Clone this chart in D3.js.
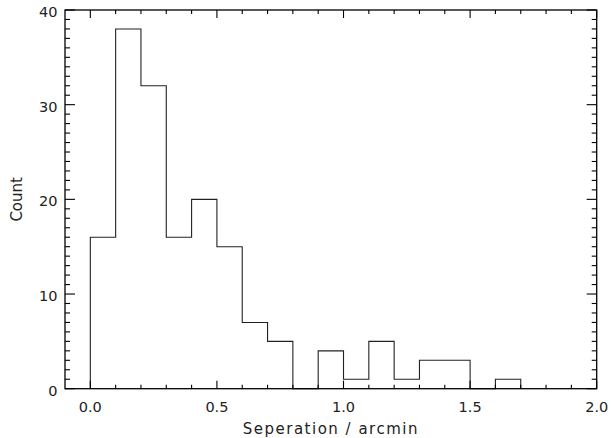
<!DOCTYPE html>
<html><head><meta charset="utf-8">
<script src="https://cdn.jsdelivr.net/npm/d3@7"></script>
<style>body{margin:0;background:#fff}svg{display:block}text{font-family:"DejaVu Sans",sans-serif;fill:#222}</style>
</head><body>
<script>
const binStarts = [0.0,0.1,0.2,0.3,0.4,0.5,0.6,0.7,0.8,0.9,1.0,1.1,1.2,1.3,1.4,1.5,1.6];
const counts    = [16, 38, 32, 16, 20, 15, 7, 5, 0, 4, 1, 5, 1, 3, 3, 0, 1];
const binWidth = 0.1;
const xTickValues = [0.0,0.5,1.0,1.5,2.0];
const xTickLabels = ["0.0","0.5","1.0","1.5","2.0"];
const yTickValues = [0,10,20,30,40];
const yTickLabels = ["0","10","20","30","40"];

const W=611,H=438;
const m={l:65,r:14.3,t:10,b:49.3};
const svg=d3.select("body").append("svg").attr("width",W).attr("height",H);
const x=d3.scaleLinear().domain([-0.1,2.0]).range([m.l,W-m.r]);
const y=d3.scaleLinear().domain([0,40]).range([H-m.b,m.t]);

// histogram step path
const pts=[[binStarts[0],0]];
binStarts.forEach((s,i)=>{pts.push([s,counts[i]]);pts.push([s+binWidth,counts[i]]);});
pts.push([binStarts[binStarts.length-1]+binWidth,0]);
svg.append("path").attr("d",d3.line().x(d=>x(d[0])).y(d=>y(d[1])).curve(d3.curveLinear)(pts))
  .attr("fill","none").attr("stroke","#222").attr("stroke-width",1.1);

const g=svg.append("g").attr("stroke","#000").attr("stroke-width",1.1);
const x0=x.range()[0],x1=x.range()[1],y0=y.range()[0],y1=y.range()[1];
svg.append("rect").attr("x",x0).attr("y",y1).attr("width",x1-x0).attr("height",y0-y1)
  .attr("fill","none").attr("stroke","#000").attr("stroke-width",1.3);
const xMinor=d3.range(0,21).map(i=>i/10).filter(v=>!xTickValues.some(t=>Math.abs(t-v)<1e-9));
xMinor.forEach(v=>{
  g.append("line").attr("x1",x(v)).attr("x2",x(v)).attr("y1",y0).attr("y2",y0-4);
  g.append("line").attr("x1",x(v)).attr("x2",x(v)).attr("y1",y1).attr("y2",y1+4);
});
xTickValues.forEach(v=>{
  g.append("line").attr("x1",x(v)).attr("x2",x(v)).attr("y1",y0).attr("y2",y0-8);
  g.append("line").attr("x1",x(v)).attr("x2",x(v)).attr("y1",y1).attr("y2",y1+8);
});
const yMinor=d3.range(0,41).filter(v=>v%10!==0);
yMinor.forEach(v=>{
  g.append("line").attr("x1",x0).attr("x2",x0+5).attr("y1",y(v)).attr("y2",y(v));
  g.append("line").attr("x1",x1).attr("x2",x1-5).attr("y1",y(v)).attr("y2",y(v));
});
yTickValues.forEach(v=>{
  g.append("line").attr("x1",x0).attr("x2",x0+10).attr("y1",y(v)).attr("y2",y(v));
  g.append("line").attr("x1",x1).attr("x2",x1-10).attr("y1",y(v)).attr("y2",y(v));
});
svg.selectAll(".xl").data(xTickValues).enter().append("text")
  .attr("x",d=>x(d)).attr("y",y0+23.5).attr("text-anchor","middle").attr("font-size",14.5)
  .text((d,i)=>xTickLabels[i]);
svg.selectAll(".yl").data(yTickValues).enter().append("text")
  .attr("x",x0-7.5).attr("y",d=>y(d)+7).attr("text-anchor","end").attr("font-size",14.5)
  .text((d,i)=>yTickLabels[i]);
svg.append("text").attr("x",(x0+x1)/2).attr("y",434).attr("text-anchor","middle").attr("font-size",15)
  .attr("letter-spacing",1.5).text("Seperation / arcmin");
svg.append("text").attr("transform",`translate(22,${(y0+y1)/2}) rotate(-90)`).attr("text-anchor","middle").attr("font-size",15)
  .text("Count");
</script>
</body></html>
